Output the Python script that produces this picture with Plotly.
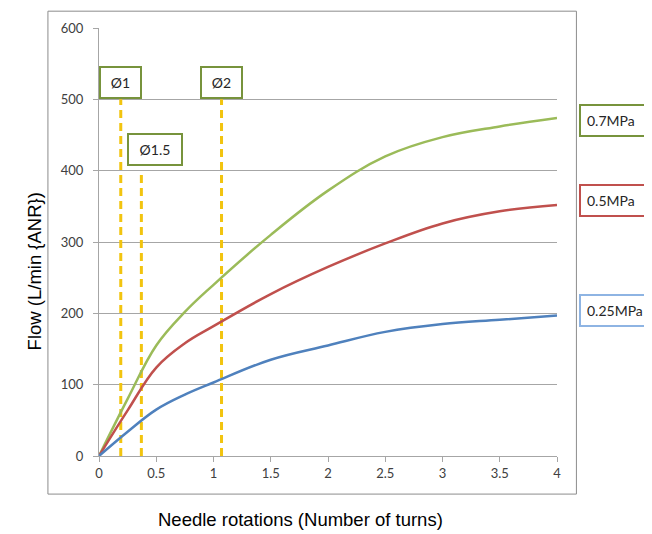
import plotly.graph_objects as go

# Data
turns = [0, 0.25, 0.5, 0.75, 1, 1.5, 2, 2.5, 3, 3.5, 4]
flow_07 = [0, 80, 155, 202, 240, 310, 372, 420, 447, 462, 474]
flow_05 = [0, 64, 124, 158, 182, 227, 265, 298, 326, 343, 352]
flow_025 = [0, 34, 65, 86, 103, 135, 155, 174, 185, 191, 197]
series_names = ["0.7MPa", "0.5MPa", "0.25MPa"]
series_colors = ["#9BBB59", "#C0504D", "#4F81BD"]
box_colors = ["#77933C", "#C0504D", "#8EB4E3"]

marker_x = [0.19, 0.37, 1.07]
marker_top = [500, 400, 500]
marker_labels = ["Ø1", "Ø1.5", "Ø2"]

x_ticks = [0, 0.5, 1, 1.5, 2, 2.5, 3, 3.5, 4]
x_tick_text = ["0", "0.5", "1", "1.5", "2", "2.5", "3", "3.5", "4"]
y_ticks = [0, 100, 200, 300, 400, 500, 600]

fig = go.Figure()

# dashed marker lines
for mx, mt in zip(marker_x, marker_top):
    fig.add_trace(go.Scatter(x=[mx, mx], y=[0, mt], mode="lines",
                             line=dict(color="#F2C40F", width=3, dash="8px,5px"),
                             showlegend=False, hoverinfo="skip"))

for name, ys, col in zip(series_names, [flow_07, flow_05, flow_025], series_colors):
    fig.add_trace(go.Scatter(x=turns, y=ys, mode="lines", name=name,
                             line=dict(color=col, width=2.5, shape="spline", smoothing=1.1),
                             showlegend=False))

tick_font = dict(family="Lato, Open Sans, sans-serif", size=13, color="#404040")
label_font = dict(family="Lato, Open Sans, sans-serif", size=14, color="#262626")

# page body has an 8px margin, so the figure is shifted up/left by 8px
fig.update_layout(
    width=652, height=534,
    margin=dict(l=91, r=103, t=16, b=86),
    paper_bgcolor="white", plot_bgcolor="white",
    xaxis=dict(range=[0, 4], tickvals=x_ticks, ticktext=x_tick_text,
               showgrid=False, zeroline=False, showline=True, linecolor="#A6A6A6",
               ticks="outside", ticklen=5, tickcolor="#A6A6A6", tickfont=tick_font,
               fixedrange=True),
    yaxis=dict(range=[0, 600], tickvals=y_ticks, showgrid=True, gridcolor="#A6A6A6",
               gridwidth=1, zeroline=False, showline=True, linecolor="#A6A6A6",
               ticks="outside", ticklen=5, tickcolor="#A6A6A6", tickfont=tick_font,
               ticklabelstandoff=7, fixedrange=True),
    font=dict(family="Liberation Sans, Arial, sans-serif"),
)

# outer chart frame
fig.add_shape(type="rect", xref="paper", yref="paper",
              x0=-0.1115, x1=1.0424, y0=-0.089, y1=1.0393,
              line=dict(color="#8C8C8C", width=1), fillcolor="rgba(0,0,0,0)", layer="below")

# marker label boxes
label_shift = [0, 14, 0]
label_yshift = [0, 5, 0]
for mx, mt, lab, xs, ys in zip(marker_x, marker_top, marker_labels, label_shift, label_yshift):
    fig.add_annotation(x=mx, y=mt, xref="x", yref="y", text=lab, showarrow=False,
                       xanchor="center", yanchor="bottom", xshift=xs, yshift=ys,
                       font=label_font,
                       bordercolor="#77933C", borderwidth=2, borderpad=6, bgcolor="white",
                       width=27 if len(lab) < 3 else 40)

# series labels on the right
label_ys = [0.785, 0.598, 0.339]
for name, bc, ly in zip(series_names, box_colors, label_ys):
    fig.add_annotation(xref="paper", yref="paper", x=1.049, y=ly, text=name,
                       showarrow=False, xanchor="left", yanchor="middle", align="left",
                       font=label_font,
                       bordercolor=bc, borderwidth=2, borderpad=6, bgcolor="white",
                       width=70)

# axis titles
fig.add_annotation(xref="paper", yref="paper", x=(300 - 99) / 457.6, y=(456.5 - 521) / 432.5,
                   text="Needle rotations (Number of turns)", showarrow=False,
                   xanchor="center", yanchor="middle",
                   font=dict(family="Liberation Sans, Arial, sans-serif", size=18.5, color="black"))
fig.add_annotation(xref="paper", yref="paper", x=(34 - 99) / 457.6, y=(456.5 - 270) / 432.5,
                   text="Flow (L/min {ANR})", showarrow=False, textangle=-90,
                   xanchor="center", yanchor="middle",
                   font=dict(family="Liberation Sans, Arial, sans-serif", size=18.5, color="black"))

fig.write_html("out.html")
